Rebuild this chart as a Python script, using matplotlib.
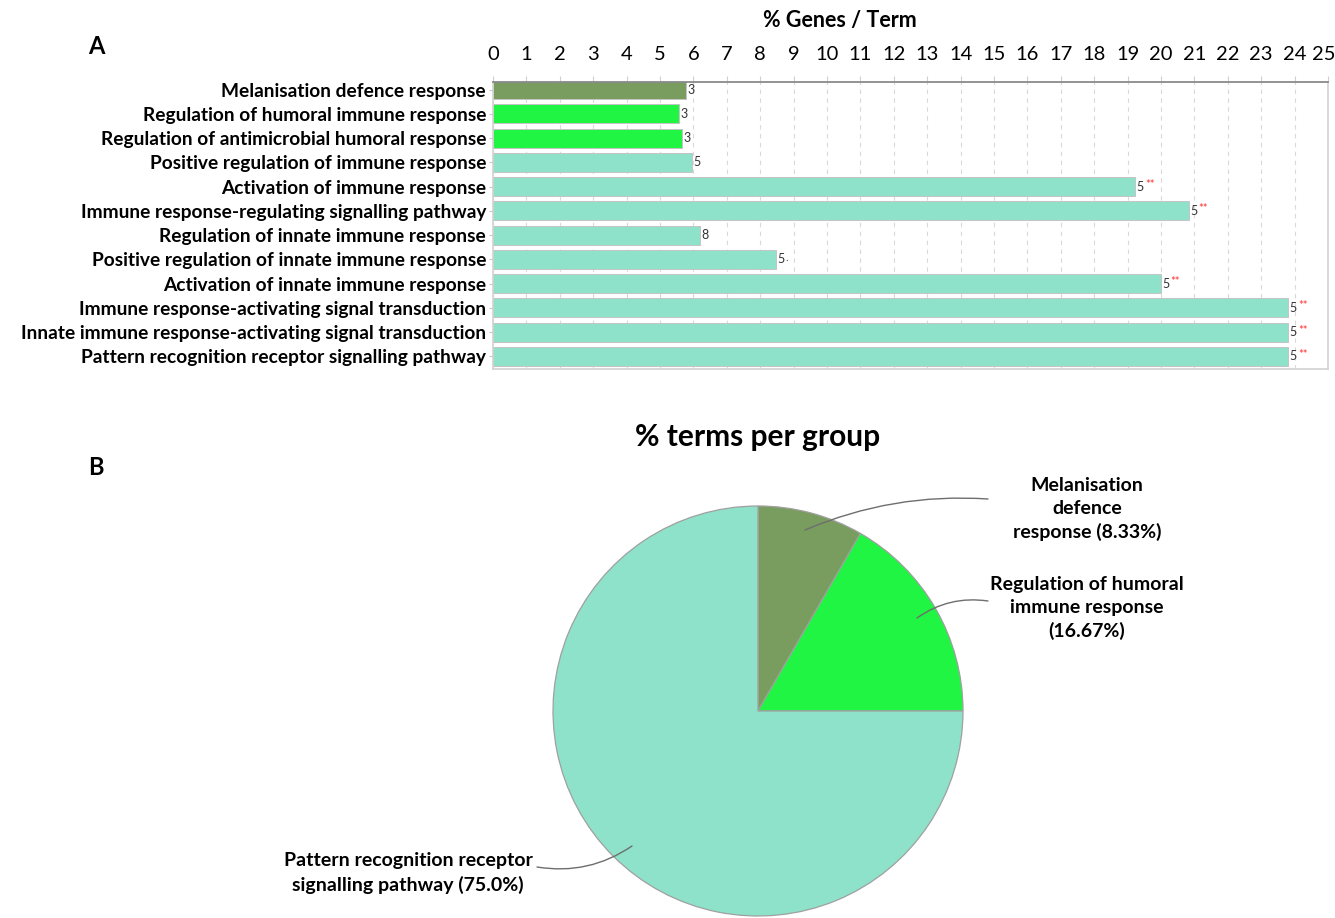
import matplotlib
matplotlib.use("Agg")
import matplotlib.pyplot as plt
from matplotlib.patches import FancyArrowPatch
from matplotlib.transforms import offset_copy

plt.rcParams['font.family'] = ['Lato', 'DejaVu Sans']

# ---- data -------------------------------------------------------------
terms = [
    "Melanisation defence response",
    "Regulation of humoral immune response",
    "Regulation of antimicrobial humoral response",
    "Positive regulation of immune response",
    "Activation of immune response",
    "Immune response-regulating signalling pathway",
    "Regulation of innate immune response",
    "Positive regulation of innate immune response",
    "Activation of innate immune response",
    "Immune response-activating signal transduction",
    "Innate immune response-activating signal transduction",
    "Pattern recognition receptor signalling pathway",
]
pct_genes = [5.77, 5.56, 5.66, 5.95, 19.23, 20.83, 6.20, 8.47, 20.0, 23.81, 23.81, 23.81]
n_genes = [3, 3, 3, 5, 5, 5, 8, 5, 5, 5, 5, 5]
signif = ["", "", "", "", "**", "**", "", ".", "**", "**", "**", "**"]
term_group = [0, 1, 1, 2, 2, 2, 2, 2, 2, 2, 2, 2]

group_pct = [8.33, 16.67, 75.0]
group_colors = ["#789d5f", "#1ff542", "#8de2c9"]

x_ticks = list(range(0, 26))

# ---- figure -----------------------------------------------------------
W, H = 1335, 918
fig = plt.figure(figsize=(W / 100, H / 100), dpi=100)


def px(x, y):
    """pixel position (from top-left) -> figure fraction"""
    return (x / W, 1 - y / H)


# ---- panel A: bar chart ----------------------------------------------
axL, axR, axT, axB = 493, 1328, 82, 369
ax = fig.add_axes([axL / W, 1 - axB / H, (axR - axL) / W, (axB - axT) / H])
rows = list(range(len(terms)))
bar_colors = [group_colors[g] for g in term_group]
ax.barh(rows, pct_genes, height=0.78, color=bar_colors,
        edgecolor="#c4c4c4", linewidth=0.7, zorder=2)
ax.set_xlim(0, 25)
ax.set_ylim(11.52, -0.31)
ax.set_yticks(rows)
ax.set_yticklabels(terms, fontsize=13.8, fontweight="bold")
ax.xaxis.tick_top()
ax.set_xticks(x_ticks)
ax.set_xticklabels([str(t) for t in x_ticks], fontsize=14.5)
ax.tick_params(axis="x", length=4, color="#d0d0d0", pad=10)
ax.tick_params(axis="y", length=3, color="#c8c8c8", pad=2)
# keep the last top label inside the canvas
last = ax.get_xticklabels()[-1]
last.set_transform(offset_copy(last.get_transform(), fig=fig, x=-4, units="dots"))
ax.grid(axis="x", linestyle=(0, (4, 4)), color="#d9d9d9", linewidth=0.8, zorder=0)
ax.set_axisbelow(True)
ax.spines["top"].set_color("#8a8a8a")
ax.spines["top"].set_linewidth(1.3)
for s in ("left", "right", "bottom"):
    ax.spines[s].set_color("#d2d2d2")
    ax.spines[s].set_linewidth(1.2)

for i, (v, n, s) in enumerate(zip(pct_genes, n_genes, signif)):
    ax.annotate(str(n), xy=(v, i), xytext=(1, 0), textcoords="offset points",
                fontsize=9, va="center", ha="left", color="#333333")
    if s:
        col = "#ff3030" if s == "**" else "#555555"
        ax.annotate(s, xy=(v, i), xytext=(7, 1.5), textcoords="offset points",
                    fontsize=8, va="center", ha="left", color=col)

fig.text(*px(840, 20), "% Genes / Term", fontsize=15.5, fontweight="bold",
         ha="center", va="center")
fig.text(*px(96, 47), "A", fontsize=17, fontweight="bold", ha="center", va="center")

# ---- panel B: pie chart ----------------------------------------------
cx, cy, r = 758, 711, 205
ax2 = fig.add_axes([(cx - r) / W, 1 - (cy + r) / H, 2 * r / W, 2 * r / H])
ax2.pie(group_pct, colors=group_colors, startangle=90, counterclock=False,
        radius=1, wedgeprops=dict(edgecolor="#a0a0a0", linewidth=0.9))
ax2.set_xlim(-1, 1)
ax2.set_ylim(-1, 1)
ax2.axis("off")

fig.text(*px(758, 437), "% terms per group", fontsize=21.5, fontweight="bold",
         ha="center", va="center")
fig.text(*px(96, 468), "B", fontsize=17, fontweight="bold", ha="center", va="center")

# pie labels with curved leader lines
label_pos = [(1087, 509), (1087, 608), (408, 873)]
leader = [((805, 530), (988, 499), 0.12),
          ((917, 618), (988, 601), 0.2),
          ((632, 846), (537, 867), 0.2)]
texts = [
    f"Melanisation\ndefence\nresponse ({group_pct[0]}%)",
    f"Regulation of humoral\nimmune response\n({group_pct[1]}%)",
    f"Pattern recognition receptor\nsignalling pathway ({group_pct[2]}%)",
]
for (x, y), t in zip(label_pos, texts):
    fig.text(*px(x, y), t, fontsize=14, fontweight="bold", ha="center",
             va="center", linespacing=1.4)
for start, end, rad in leader:
    fig.add_artist(FancyArrowPatch(
        px(*end), px(*start), transform=fig.transFigure,
        arrowstyle="-", connectionstyle=f"arc3,rad={rad}",
        color="#6e6e6e", linewidth=1.0, shrinkA=0, shrinkB=0))

fig.savefig("out.png", dpi=100)
